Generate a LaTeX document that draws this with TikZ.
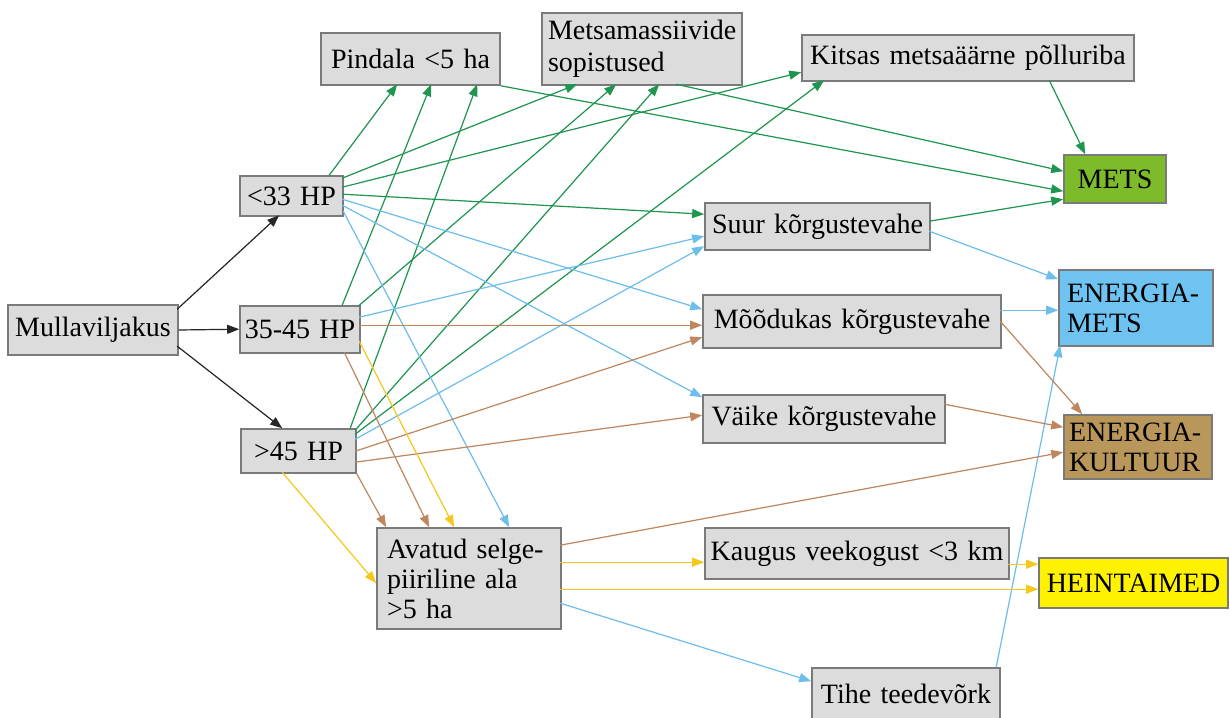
\documentclass[tikz,border=0pt]{standalone}
\usepackage{fontspec}
\setmainfont{Liberation Serif}
\usetikzlibrary{arrows.meta,calc}
\definecolor{boxfill}{HTML}{DCDCDC}
\definecolor{boxline}{HTML}{7A7A7A}
\definecolor{cgreen}{HTML}{1E9650}
\definecolor{cblue}{HTML}{6EBEEB}
\definecolor{cbrown}{HTML}{BE875F}
\definecolor{cyellow}{HTML}{F5C81E}
\definecolor{metsfill}{HTML}{7DBB2A}
\definecolor{emetsfill}{HTML}{6EC3F0}
\definecolor{ekultfill}{HTML}{B9965A}
\definecolor{heinfill}{HTML}{FFF200}
\begin{document}
\begin{tikzpicture}[x=0.5pt,y=-0.5pt,
  box/.style={draw=boxline, fill=boxfill, line width=0.8pt, inner ysep=0pt, inner xsep=0pt,
    font=\fontsize{14}{15}\selectfont, align=center},
  con/.style={line width=0.6pt, -{Triangle[length=6pt,width=4.5pt]}},
  ck/.style={con, draw=black!85, fill=black!85},
  cg/.style={con, draw=cgreen, fill=cgreen},
  cb/.style={con, draw=cblue, fill=cblue},
  cr/.style={con, draw=cbrown, fill=cbrown},
  cy/.style={con, draw=cyellow, fill=cyellow}]
\useasboundingbox (0,0) rectangle (1230,717);
\fill[white] (0,0) rectangle (1230,717);

% nodes
\node[box, text width=85pt, minimum height=25pt] (mull) at (93,330) {Mullaviljakus};
\node[box, text width=51.5pt, minimum height=20pt] (hp33) at (291.5,196) {<33 HP};
\node[box, text width=60pt, minimum height=23.5pt] (hp35) at (300,329.5) {35-45 HP};
\node[box, text width=57.5pt, minimum height=22pt] (hp45) at (298.5,451) {>45 HP};
\node[box, text width=89.5pt, minimum height=26pt] (pind) at (410.5,59) {Pindala <5 ha};
\node[box, text width=94pt, inner xsep=3pt, minimum height=36pt, align=left,
  font=\fontsize{14}{16}\selectfont] (mets1) at (642,49) {Metsamassiivide\\sopistused};
\node[box, text width=166pt, minimum height=23pt] (kits) at (968,58) {Kitsas metsaäärne põlluriba};
\node[box, fill=metsfill, text width=51pt, minimum height=24pt] (mets) at (1115,179) {METS};
\node[box, text width=112.5pt, minimum height=23.5pt] (suur) at (817.5,226.5) {Suur kõrgustevahe};
\node[box, fill=emetsfill, text width=69pt, inner xsep=4pt, minimum height=38pt, align=left] (emets) at (1136,308) {ENERGIA-\\METS};
\node[box, text width=149pt, minimum height=26.5pt] (mood) at (852,321.5) {Mõõdukas kõrgustevahe};
\node[box, text width=121pt, minimum height=24pt] (vaike) at (824,419) {Väike kõrgustevahe};
\node[box, fill=ekultfill, text width=69pt, inner xsep=2.5pt, minimum height=32pt, align=left] (ekult) at (1138,447) {ENERGIA-\\KULTUUR};
\node[box, text width=82pt, inner xsep=5pt, minimum height=50.5pt, align=left] (avat) at (469,578.5) {Avatud selge-\\piiriline ala\\>5 ha};
\node[box, text width=152pt, minimum height=25.5pt] (kaug) at (857,553.5) {Kaugus veekogust <3 km};
\node[box, fill=heinfill, text width=94.5pt, minimum height=25pt] (hein) at (1133.5,583) {HEINTAIMED};
\node[box, text width=94pt, minimum height=26pt] (tihe) at (906,694) {Tihe teedevõrk};

% black
\draw[ck] ($(mull.north west)+(170,5)$) -- ($(hp33.north west)+(40,40)$);
\draw[ck] (mull.east) -- ($(hp35.north west)+(0,24)$);
\draw[ck] ($(mull.north west)+(170,42)$) -- ($(hp45.north west)+(42,0)$);

% green
\draw[cg] ($(hp33.north west)+(90,0)$) -- ($(pind.north west)+(77,52)$);
\draw[cg] ($(hp33.north west)+(103,3)$) -- ($(mets1.north west)+(36,72)$);
\draw[cg] ($(hp33.north west)+(103,12)$) -- ($(kits.north west)+(0,38)$);
\draw[cg] ($(hp33.north west)+(103,19)$) -- ($(suur.north west)+(0,12)$);
\draw[cg] ($(hp35.north west)+(103,0)$) -- ($(pind.north west)+(111,52)$);
\draw[cg] ($(hp35.north west)+(119,1)$) -- ($(mets1.north west)+(75,72)$);
\draw[cg] ($(hp45.north west)+(110,0)$) -- ($(pind.north west)+(157,52)$);
\draw[cg] ($(hp45.north west)+(115,2)$) -- ($(mets1.north west)+(118,72)$);
\draw[cg] ($(hp45.north west)+(115,6)$) -- ($(kits.north west)+(23,46)$);
\draw[cg] (pind.south east) -- ($(mets.north west)+(0,37)$);
\draw[cg] ($(mets1.north west)+(135,72)$) -- ($(mets.north west)+(0,17)$);
\draw[cg] ($(kits.north west)+(248,46)$) -- ($(mets.north west)+(22,0)$);
\draw[cg] ($(suur.north west)+(225,19)$) -- ($(mets.north west)+(0,45)$);

% blue
\draw[cb] ($(hp33.north west)+(103,24)$) -- ($(mood.north west)+(0,15)$);
\draw[cb] ($(hp33.north west)+(103,30)$) -- ($(vaike.north west)+(0,3)$);
\draw[cb] ($(hp33.north west)+(104,36)$) -- ($(avat.north west)+(133,0)$);
\draw[cb] ($(hp35.north west)+(120,12)$) -- ($(suur.north west)+(0,34)$);
\draw[cb] ($(hp45.north west)+(115,11)$) -- ($(suur.north west)+(0,44)$);
\draw[cb] ($(suur.north west)+(225,29)$) -- ($(emets.north west)+(0,10)$);
\draw[cb] ($(mood.north west)+(298,16)$) -- ($(emets.north west)+(0,41)$);
\draw[cb] ($(tihe.north west)+(185,0)$) -- ($(emets.north west)+(2,76)$);
\draw[cb] ($(avat.north west)+(184,76)$) -- ($(tihe.north west)+(0,14)$);

% brown
\draw[cr] ($(hp35.north west)+(120,20)$) -- ($(mood.north west)+(0,31)$);
\draw[cr] ($(hp45.north west)+(115,23)$) -- ($(mood.north west)+(0,43)$);
\draw[cr] ($(hp45.north west)+(115,34)$) -- ($(vaike.north west)+(0,21)$);
\draw[cr] (hp45.south east) -- ($(avat.north west)+(10,0)$);
\draw[cr] ($(hp35.north west)+(105,47)$) -- ($(avat.north west)+(53,0)$);
\draw[cr] ($(mood.north west)+(298,27)$) -- ($(ekult.north west)+(19,0)$);
\draw[cr] ($(vaike.north west)+(242,10)$) -- ($(ekult.north west)+(0,13)$);
\draw[cr] ($(avat.north west)+(184,18)$) -- ($(ekult.north west)+(0,38)$);

% yellow
\draw[cy] ($(hp35.north west)+(120,36)$) -- ($(avat.north west)+(78,0)$);
\draw[cy] ($(hp45.north west)+(42,44)$) -- ($(avat.north west)+(0,56)$);
\draw[cy] ($(avat.north west)+(184,35)$) -- ($(kaug.north west)+(0,35)$);
\draw[cy] ($(avat.north west)+(184,62)$) -- ($(hein.north west)+(0,32)$);
\draw[cy] ($(kaug.north west)+(304,37)$) -- ($(hein.north west)+(0,7)$);
\end{tikzpicture}
\end{document}
